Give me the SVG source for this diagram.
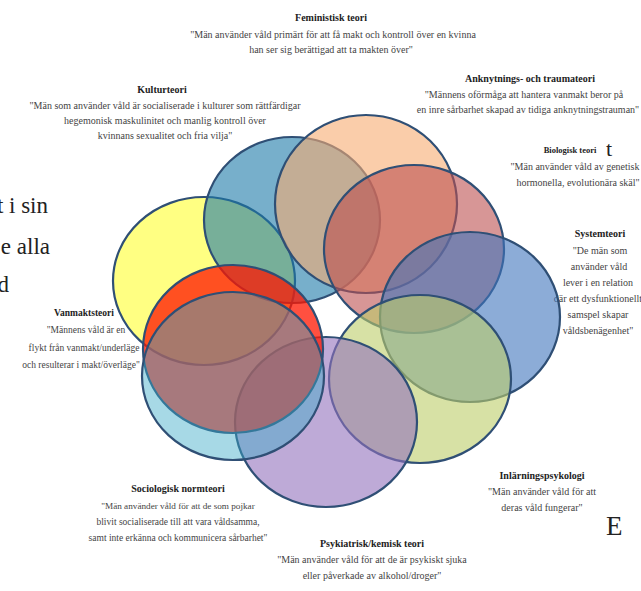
<svg xmlns="http://www.w3.org/2000/svg" width="641" height="591" viewBox="0 0 641 591">
<style>
.bg{font-family:"Liberation Serif",serif;font-size:23px;fill:#222}
.t{font-family:"Liberation Serif",serif;font-size:10px;font-weight:bold;fill:#222;text-anchor:middle}
.b{font-family:"Liberation Serif",serif;font-size:10px;fill:#444;text-anchor:middle}
.e{stroke:#2f4f75;stroke-width:2.2;fill-opacity:0.6}
</style>
<rect width="641" height="591" fill="#fff"/>
<g id="background-text">
<text class="bg" x="48" y="213" text-anchor="end">t i sin</text>
<text class="bg" x="50" y="254" text-anchor="end">e alla</text>
<text class="bg" x="9" y="292" text-anchor="end">d</text>
<text class="bg" x="606" y="156" style="font-size:22px">t</text>
<text class="bg" x="606" y="535" style="font-size:27px">E</text>
</g>
<g id="label-feministisk">
<text class="t" x="331" y="21">Feministisk teori</text>
<text class="b" x="333" y="38">"Män använder våld primärt för att få makt och kontroll över en kvinna</text>
<text class="b" x="331" y="53">han ser sig berättigad att ta makten över"</text>
</g>
<g id="label-kultur">
<text class="t" x="162" y="93">Kulturteori</text>
<text class="b" x="165" y="109">"Män som använder våld är socialiserade i kulturer som rättfärdigar</text>
<text class="b" x="165" y="124">hegemonisk maskulinitet och manlig kontroll över</text>
<text class="b" x="165" y="139">kvinnans sexualitet och fria vilja"</text>
</g>
<g id="label-anknytning">
<text class="t" x="530" y="82">Anknytnings- och traumateori</text>
<text class="b" x="524" y="98">"Männens oförmåga att hantera vanmakt beror på</text>
<text class="b" x="528" y="113">en inre sårbarhet skapad av tidiga anknytningstrauman"</text>
</g>
<g id="label-biologisk">
<text class="t" x="570" y="153" style="font-size:8.5px">Biologisk teori</text>
<text class="b" x="575" y="170">"Män använder våld av genetisk</text>
<text class="b" x="578" y="186">hormonella, evolutionära skäl"</text>
</g>
<g id="label-system">
<text class="t" x="600" y="237">Systemteori</text>
<text class="b" x="600" y="254">"De män som</text>
<text class="b" x="599" y="270">använder våld</text>
<text class="b" x="598" y="286">lever i en relation</text>
<text class="b" x="598" y="302">där ett dysfunktionellt</text>
<text class="b" x="598" y="318">samspel skapar</text>
<text class="b" x="598" y="334">våldsbenägenhet"</text>
</g>
<g id="label-vanmakt">
<text class="t" x="84" y="316" style="font-size:9.5px">Vanmaktsteori</text>
<text class="b" x="86" y="333" style="font-size:9.5px">"Männens våld är en</text>
<text class="b" x="84" y="351" style="font-size:9.5px">flykt från vanmakt/underläge</text>
<text class="b" x="81" y="368" style="font-size:9.5px">och resulterar i makt/överläge"</text>
</g>
<g id="label-sociologisk">
<text class="t" x="178" y="492">Sociologisk normteori</text>
<text class="b" x="178" y="509" style="font-size:9.2px">"Män använder våld för att de som pojkar</text>
<text class="b" x="178" y="525" style="font-size:9.5px">blivit socialiserade till att vara våldsamma,</text>
<text class="b" x="178" y="541" style="font-size:9.5px">samt inte erkänna och kommunicera sårbarhet"</text>
</g>
<g id="label-psykiatrisk">
<text class="t" x="372" y="547">Psykiatrisk/kemisk teori</text>
<text class="b" x="372" y="563">"Män använder våld för att de är psykiskt sjuka</text>
<text class="b" x="372" y="579">eller påverkade av alkohol/droger"</text>
</g>
<g id="label-inlarning">
<text class="t" x="542" y="479">Inlärningspsykologi</text>
<text class="b" x="542" y="495">"Män använder våld för att</text>
<text class="b" x="542" y="511">deras våld fungerar"</text>
</g>
<g id="circles">
<ellipse id="c-yellow" class="e" cx="204" cy="281" rx="91" ry="84" fill="#ffff2f"/>
<ellipse id="c-kultur" class="e" cx="292" cy="220" rx="88" ry="83" fill="#1c79a8"/>
<ellipse id="c-feministisk" class="e" cx="366" cy="204" rx="91" ry="89" fill="#f7ac71"/>
<ellipse id="c-anknytning" class="e" cx="414" cy="249" rx="90" ry="84" fill="#bc5050"/>
<ellipse id="c-system" class="e" cx="470" cy="317" rx="90" ry="85" fill="#3f75bd"/>
<ellipse id="c-inlarning" class="e" cx="420" cy="379" rx="91" ry="84" fill="#bccd69"/>
<ellipse id="c-psykiatrisk" class="e" cx="326" cy="422" rx="91" ry="85" fill="#9371bc"/>
<ellipse id="c-vanmakt" class="e" cx="233" cy="349" rx="90" ry="84" fill="#ff1600" style="fill-opacity:0.75"/>
<ellipse id="c-sociologisk" class="e" cx="233" cy="376" rx="91" ry="84" fill="#3caac8" style="fill-opacity:0.45"/>
</g>
</svg>
